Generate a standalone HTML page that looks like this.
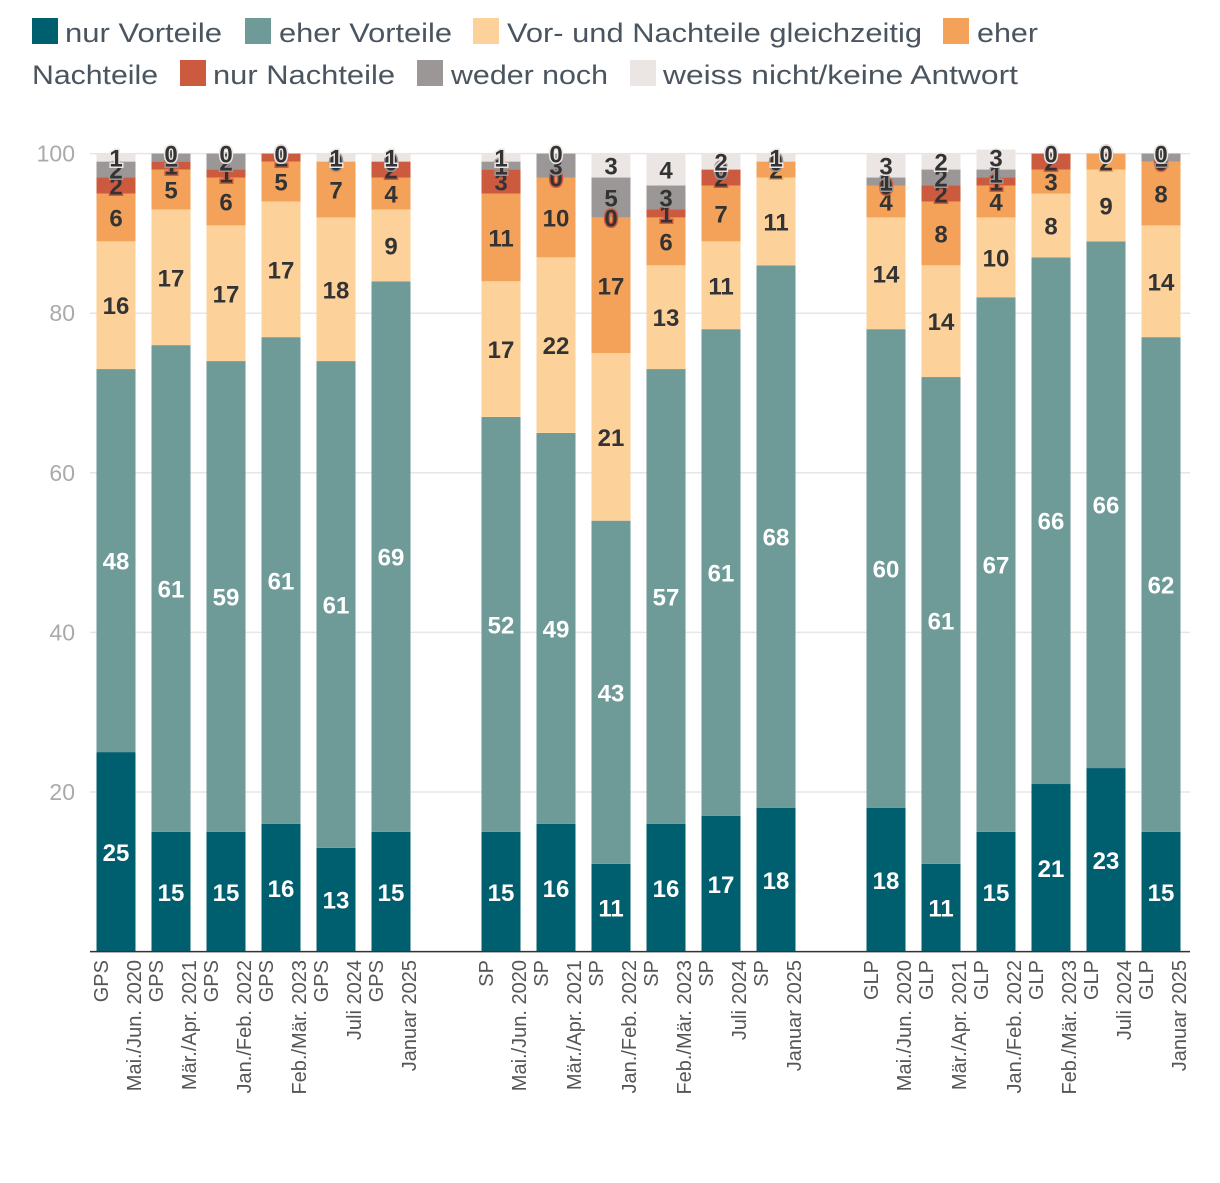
<!DOCTYPE html>
<html><head><meta charset="utf-8"><style>
body{margin:0;background:#fff;font-family:"Liberation Sans",sans-serif}
</style></head><body>
<svg id="chart" width="1220" height="1178" xmlns="http://www.w3.org/2000/svg"></svg>
<script>
const seriesNames=["nur Vorteile","eher Vorteile","Vor- und Nachteile gleichzeitig","eher Nachteile","nur Nachteile","weder noch","weiss nicht/keine Antwort"];
const parties=["GPS","GPS","GPS","GPS","GPS","GPS","SP","SP","SP","SP","SP","SP","GLP","GLP","GLP","GLP","GLP","GLP"];
const periods=["Mai./Jun. 2020","Mär./Apr. 2021","Jan./Feb. 2022","Feb./Mär. 2023","Juli 2024","Januar 2025","Mai./Jun. 2020","Mär./Apr. 2021","Jan./Feb. 2022","Feb./Mär. 2023","Juli 2024","Januar 2025","Mai./Jun. 2020","Mär./Apr. 2021","Jan./Feb. 2022","Feb./Mär. 2023","Juli 2024","Januar 2025"];
const nurVorteile=[25,15,15,16,13,15,15,16,11,16,17,18,18,11,15,21,23,15];
const eherVorteile=[48,61,59,61,61,69,52,49,43,57,61,68,60,61,67,66,66,62];
const beides=[16,17,17,17,18,9,17,22,21,13,11,11,14,14,10,8,9,14];
const eherNachteile=[6,5,6,5,7,4,11,10,17,6,7,2,4,8,4,3,2,8];
const nurNachteile=[2,1,1,1,0,2,3,0,0,1,2,0,0,2,1,2,0,0];
const wederNoch=[2,1,2,0,0,0,1,3,5,3,0,0,1,2,1,0,0,1];
const weissNicht=[1,0,0,0,1,1,1,0,3,4,2,1,3,2,3,0,0,0];
const yTicks=[20,40,60,80,100];
const slots=[0,1,2,3,4,5,7,8,9,10,11,12,14,15,16,17,18,19];
const series=[nurVorteile,eherVorteile,beides,eherNachteile,nurNachteile,wederNoch,weissNicht];
const colors=["#005f6e","#6e9a98","#fdd29a","#f4a259","#cc5a3f","#9b9797","#ebe6e3"];
const textCol=["#fff","#fff","#333","#333","#333","#333","#333"];
const svg=document.getElementById('chart');
const NS="http://www.w3.org/2000/svg";
const y=v=>951.6-v*7.98;
const x=s=>116+s*55;
const bw=39;
function mk(t,a){const e=document.createElementNS(NS,t);for(const k in a)e.setAttribute(k,a[k]);svg.appendChild(e);return e;}
yTicks.forEach(t=>{
 const l=mk('line',{x1:90,x2:1190,y1:y(t),y2:y(t),stroke:'#e6e6e6','stroke-width':1.5});
 
 
 const tx=mk('text',{x:75,y:y(t)+8,'text-anchor':'end','font-size':23,fill:'#aaaaaa'});
 tx.textContent=t;
 
 
});
slots.forEach((s,i)=>{
 let base=0;
 series.forEach((arr,k)=>{
  const v=arr[i];
  const top=Math.min(base+v,100.5);
  const r=mk('rect',{x:x(s)-bw/2,y:y(top),width:bw,height:Math.max(0,y(base)-y(top)),fill:colors[k]});
  
  
  base+=v;
 });
});
slots.forEach((s,i)=>{
 let base=0;
 series.forEach((arr,k)=>{
  const v=arr[i];
  const cy=y(base+v/2);
  const t=mk('text',{x:x(s),y:cy+9,'text-anchor':'middle','font-size':24,'font-weight':'bold',fill:textCol[k],stroke:colors[k],'stroke-width':3,'paint-order':'stroke'});
  t.textContent=v;
  
  
  base+=v;
 });
});
const ax=mk('line',{x1:90,x2:1190,y1:951.6,y2:951.6,stroke:'#333','stroke-width':1.5});


slots.forEach((s,i)=>{
 const g=mk('text',{transform:`translate(${x(s)+7},960) rotate(-90)`,'text-anchor':'end','font-size':20,fill:'#555'});
 
 
 const a=document.createElementNS(NS,'tspan');a.setAttribute('x',0);a.setAttribute('dy',-15);a.textContent=parties[i];g.appendChild(a);
 const b=document.createElementNS(NS,'tspan');b.setAttribute('x',0);b.setAttribute('dy',33);b.textContent=periods[i];g.appendChild(b);
});
const legendPos=[[32,18,65,157],[245,18,279,173],[473,18,507,415],[943,18,977,61],[180,60,213,182],[417,60,451,157],[630,60,663,355]];
legendPos.forEach((p,k)=>{
 const r=mk('rect',{x:p[0],y:p[1],width:26,height:26,fill:colors[k]});
 
 
 const t=mk('text',{x:p[2],y:p[1]+24,'font-size':27,fill:'#4a5560',textLength:p[3],lengthAdjust:'spacingAndGlyphs'});
 t.textContent=k===3?'eher':seriesNames[k];
 
 
});
const t2=mk('text',{x:32,y:84,'font-size':27,fill:'#4a5560',textLength:126,lengthAdjust:'spacingAndGlyphs'});
t2.textContent='Nachteile';


</script>
</body></html>
